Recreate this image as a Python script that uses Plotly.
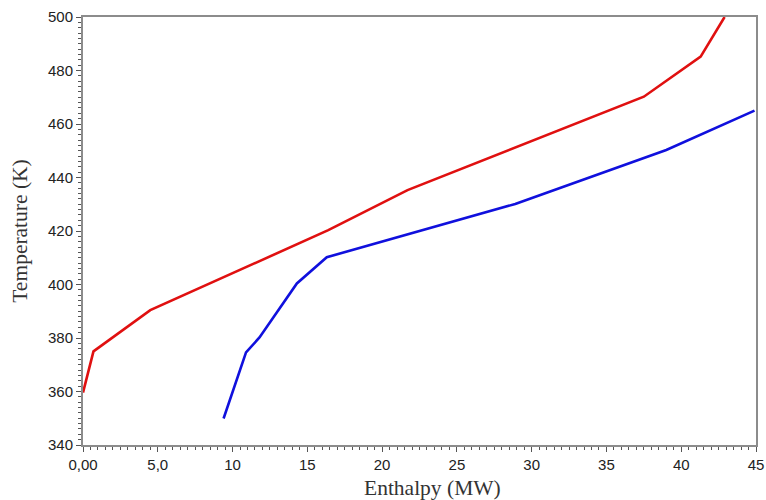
import plotly.graph_objects as go

# Hot stream composite curve (enthalpy MW, temperature K)
hot_h = [0.0, 0.7, 4.5, 16.4, 21.7, 37.5, 41.3, 42.9]
hot_t = [359.6, 375.0, 390.4, 420.3, 435.3, 470.2, 485.2, 500.0]

# Cold stream composite curve
cold_h = [9.4, 10.9, 11.8, 14.3, 16.3, 28.9, 39.0, 44.9]
cold_t = [349.9, 374.6, 380.2, 400.4, 410.2, 430.1, 450.3, 465.0]

x_ticks = [0, 5, 10, 15, 20, 25, 30, 35, 40, 45]
x_tick_text = ["0,00", "5,0", "10", "15", "20", "25", "30", "35", "40", "45"]
y_ticks = [340, 360, 380, 400, 420, 440, 460, 480, 500]

fig = go.Figure()
fig.add_trace(go.Scatter(x=hot_h, y=hot_t, mode="lines",
                         line=dict(color="#e01010", width=2.6), showlegend=False))
fig.add_trace(go.Scatter(x=cold_h, y=cold_t, mode="lines",
                         line=dict(color="#1010dd", width=2.6), showlegend=False))

title_font = dict(family="Liberation Serif, Times New Roman, serif", size=21.5, color="#333333")
axis_common = dict(
    showline=True, linecolor="#8c8c8c", linewidth=2, mirror=True,
    showgrid=False, zeroline=False, automargin=False,
    ticks="outside", ticklen=5, tickwidth=1, tickcolor="#555555",
    tickfont=dict(family="Liberation Sans, Arial, sans-serif", size=15, color="#222222"),
)

fig.update_xaxes(
    range=[0, 45], tickvals=x_ticks, ticktext=x_tick_text,
    ticklabeloverflow="allow",
    minor=dict(dtick=0.5, ticks="outside", ticklen=3, tickcolor="#555555"),
    **axis_common,
)
fig.update_yaxes(
    range=[340, 500], tickvals=y_ticks,
    minor=dict(dtick=2, ticks="outside", ticklen=3, tickcolor="#555555"),
    title=dict(text="Temperature (K)", standoff=14, font=title_font),
    **axis_common,
)

# x-axis title, set slightly right of the plot centre
fig.add_annotation(text="Enthalpy (MW)", xref="paper", yref="paper",
                   x=0.52, y=-0.1, xanchor="center", yanchor="middle",
                   showarrow=False, font=title_font)

fig.update_layout(
    width=766, height=500,
    margin=dict(l=83, r=10, t=17, b=55),
    paper_bgcolor="white", plot_bgcolor="white",
)

fig.write_html("out.html")
